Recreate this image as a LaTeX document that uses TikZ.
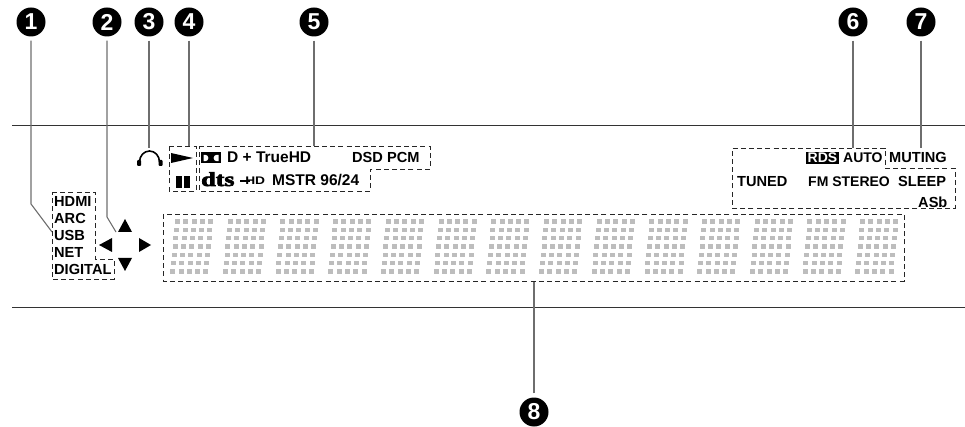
\documentclass[tikz,border=0pt]{standalone}
\usepackage{fontspec}
\setmainfont{Liberation Sans}
\newfontfamily\dtsfont[FakeBold=3]{Liberation Serif Bold}
\usetikzlibrary{calc,positioning}
\definecolor{leadgray}{HTML}{6E6E6E}
\definecolor{seggray}{HTML}{BDBDBD}
\tikzset{
  marker/.style={circle,fill=black,text=white,minimum size=29pt,inner sep=0pt,font=\fontsize{23}{23}\selectfont\bfseries},
  leader/.style={leadgray,line width=1.1pt,shorten <=4pt},
  dashbox/.style={black!85,line width=.8pt,dash pattern=on 5pt off 3.2pt},
  lbl/.style={anchor=base west,inner sep=0pt,font=\fontsize{14.6}{14.6}\selectfont\bfseries},
  lblwide/.style={lbl,font=\fontsize{15.5}{15.5}\selectfont\bfseries},
  lbltight/.style={lbl,font=\fontsize{14}{14}\selectfont\bfseries},
  rulebar/.style={black!80,line width=1pt}
}
\newcommand{\segdigit}[1]{\foreach \r in {0,...,6}{\foreach \c in {0,...,4}{\fill[seggray] (#1+\c*8.3-\r*.8,219.5+\r*8.3) rectangle ++(5,4.4);}}}
\begin{document}
\begin{tikzpicture}[x=1pt,y=-1pt]
\useasboundingbox (0,0) rectangle (965,427);
\draw[rulebar] (12,126)--(965,126);\draw[rulebar] (12,307)--(965,307);
% number markers
\node[marker] (n1) at (31,22){1};\node[marker] (n2) at (107,22){2};
\node[marker] (n3) at (149,22){3};\node[marker] (n4) at (189,22){4};
\node[marker] (n5) at (314,22){5};\node[marker] (n6) at (853,22){6};
\node[marker] (n7) at (921,22){7};\node[marker] (n8) at (534,412){8};
% leader ends
\coordinate (src) at (52,232);\coordinate (cur) at (116,232);
\coordinate (phones) at (149,148);\coordinate (play) at (189,146);
\coordinate (fmt) at (314,146);\coordinate (tuner) at (853,148);
\coordinate (mute) at (921,148);\coordinate (msg) at (534,281);
\draw[leader] (n1)--(31,204)--(src);\draw[leader] (n2)--(107,217)--(cur);
\draw[leader] (n3)--(phones);\draw[leader] (n4)--(play);
\draw[leader] (n5)--(fmt);\draw[leader] (n6)--(tuner);
\draw[leader] (n7)--(mute);\draw[leader] (n8)--(msg);
% dashed groups
\draw[dashbox] (52,192)--(95,192)--(95,259)--(114,259)--(114,279)--(52,279)--cycle;
\draw[dashbox] (169,146)--(196,146)--(196,191)--(169,191)--cycle;
\draw[dashbox] (199,146)--(430,146)--(430,169)--(370,169)--(370,191)--(199,191)--cycle;
\draw[dashbox] (885,168)--(955,168)--(955,208)--(732,208)--(732,148)--(885,148)--(885,168);
\draw[dashbox] (163,214) rectangle (904,281);
% input labels
\node[lbl] (hdmi) at (54,207){HDMI};\node[lbl] (arc) at (54,224){ARC};
\node[lbl] (usb) at (54,241){USB};\node[lbl] (net) at (54,258){NET};
\node[lbl] (digital) at (54,275){DIGITAL};
% cursor arrows
\fill (125,219)--(132,232)--(118,232)--cycle;\fill (125,271)--(132,258)--(118,258)--cycle;
\fill (99,245)--(112,238)--(112,252)--cycle;\fill (151,245)--(139,238)--(139,252)--cycle;
% headphones, play, pause
\draw[line width=1.6pt] (139.5,162) arc[start angle=180,end angle=0,x radius=10,y radius=-11];
\fill[rounded corners=1pt] (137,166)--(137,160)--(141,160)--(141,166)--cycle;
\fill[rounded corners=1pt] (158.5,166)--(158.5,160)--(162.5,160)--(162.5,166)--cycle;
\fill (171,153)--(193,158)--(171,163)--cycle;
\fill (176,176) rectangle (182,188);\fill (184,176) rectangle (190,188);
% format logos and labels
\fill (201,152.5) rectangle (221,163.5);
\fill[white] (203.5,154.8)--(205.2,154.8) arc[start angle=-90,end angle=90,radius=3.2]--(203.5,161.2)--cycle;
\fill[white] (218.5,154.8)--(216.8,154.8) arc[start angle=-90,end angle=-270,radius=3.2]--(218.5,161.2)--cycle;
\node[lblwide] (truehd) at (227,163){D + TrueHD};
\node[lbl] (dsd) at (352,163){DSD PCM};
\node[lbl,font=\fontsize{20}{20}\selectfont\dtsfont,xscale=1.3] (dts) at (201,186){dts};
\draw[line width=1.2pt] (240,181)--(250,181);
\node[lbl,font=\fontsize{11}{11}\selectfont\bfseries,xscale=1.25] (hd) at (245,185){HD};
\node[lblwide] (mstr) at (272,186){MSTR 96/24};
% tuner labels
\fill (806,152.5) rectangle (839,164.5);
\node[lbltight,text=white] (rds) at (807.5,163){RDS};
\node[lbltight] (auto) at (843,163){AUTO};\node[lbl] (muting) at (889,163){MUTING};
\node[lbl] (tuned) at (737,187){TUNED};\node[lbltight] (fm) at (808,187){FM STEREO};
\node[lbl] (sleep) at (898,187){SLEEP};\node[lbl] (asb) at (918,208){ASb};
% message digits
\foreach \d in {0,...,13}{\segdigit{175+\d*52.7}}
\end{tikzpicture}
\end{document}
